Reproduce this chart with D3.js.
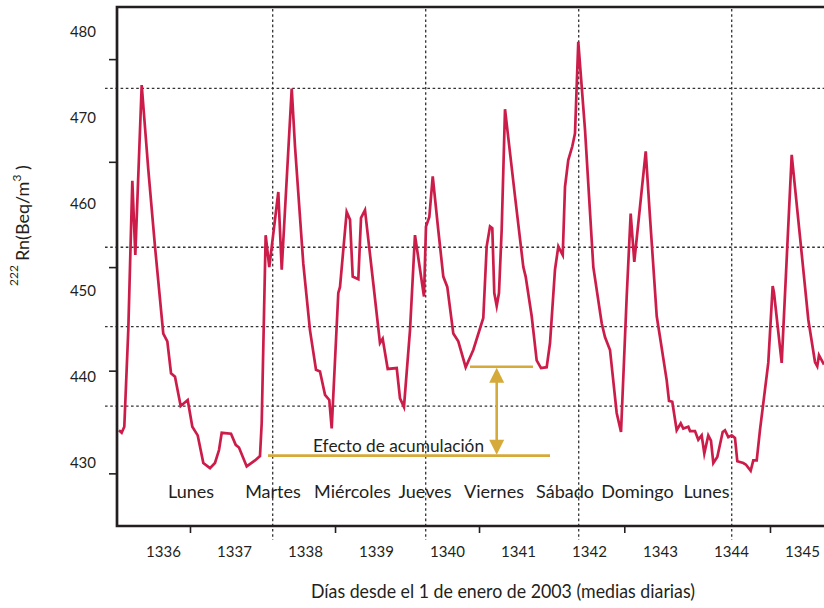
<!DOCTYPE html>
<html><head><meta charset="utf-8">
<script src="https://cdn.jsdelivr.net/npm/d3@7"></script>
<style>
body{margin:0;background:#fff}
svg{display:block}
text{font-family:Lato,"Open Sans",sans-serif;fill:#231f20}
</style>
</head><body>
<svg id="chart" width="824" height="608"></svg>
<script>
// ---- data (days since 1 Jan 2003, daily mean 222Rn in Bq/m3) ----
const days = [1335.380,1335.418,1335.455,1335.511,1335.568,1335.610,1335.700,1335.793,1335.887,1336.004,
1336.061,1336.113,1336.169,1336.249,1336.348,1336.413,1336.489,1336.568,1336.662,1336.732,
1336.789,1336.827,1336.958,1337.024,1337.070,1337.179,1337.296,1337.366,1337.390,1337.446,
1337.497,1337.624,1337.672,1337.813,1337.859,1337.976,1338.070,1338.155,1338.211,1338.282,
1338.342,1338.376,1338.469,1338.493,1338.587,1338.634,1338.672,1338.751,1338.789,1338.845,
1338.962,1339.056,1339.094,1339.165,1339.292,1339.338,1339.394,1339.479,1339.549,1339.676,
1339.704,1339.751,1339.799,1339.877,1339.948,1340.004,1340.089,1340.159,1340.263,1340.370,
1340.511,1340.559,1340.606,1340.638,1340.666,1340.700,1340.732,1340.770,1340.817,1340.958,
1341.075,1341.108,1341.193,1341.263,1341.324,1341.404,1341.451,1341.521,1341.568,1341.592,
1341.630,1341.662,1341.708,1341.765,1341.803,1341.849,1341.944,1342.061,1342.179,1342.225,
1342.296,1342.390,1342.451,1342.531,1342.587,1342.638,1342.799,1342.859,1342.954,1343.000,
1343.094,1343.127,1343.173,1343.235,1343.292,1343.328,1343.399,1343.423,1343.493,1343.539,
1343.587,1343.624,1343.680,1343.718,1343.751,1343.807,1343.883,1343.915,1343.962,1344.010,
1344.056,1344.089,1344.173,1344.211,1344.277,1344.314,1344.362,1344.408,1344.525,1344.587,
1344.606,1344.714,1344.855,1344.972,1345.089,1345.183,1345.215,1345.239,1345.310];
const radon = [433.8,433.5,434.2,445.4,462.7,454.1,473.8,464.0,455.1,445.0,
444.1,440.4,440.0,436.6,437.3,434.2,433.2,430.0,429.4,430.0,
431.5,433.5,433.4,432.1,431.8,429.6,430.3,430.8,434.6,456.4,
452.7,461.4,452.4,473.4,466.7,453.1,445.4,440.8,440.6,437.9,
437.3,434.0,449.7,450.4,459.1,458.2,451.6,451.3,458.4,459.3,
450.8,443.9,444.4,440.9,441.0,437.5,436.5,445.4,456.4,449.3,
457.4,458.5,463.2,457.0,451.6,450.4,445.0,444.1,441.1,443.1,
446.8,455.1,457.4,457.2,449.7,448.2,449.7,457.0,471.0,460.9,
452.7,451.6,447.0,441.9,441.0,441.1,443.9,452.4,455.1,454.7,
454.1,462.0,465.1,466.7,468.2,478.8,468.6,452.7,446.2,444.6,
443.1,435.8,433.6,449.3,458.9,453.3,466.1,458.5,447.0,444.6,
439.6,437.2,437.1,433.8,434.6,434.0,434.2,433.7,433.7,432.7,
433.2,431.1,433.2,432.6,430.0,430.7,433.6,433.8,433.0,433.2,
432.9,430.2,430.0,429.8,429.1,430.3,430.3,433.8,441.6,450.5,
449.7,441.6,465.7,456.2,446.6,441.7,441.2,442.5,441.4];

const xTickLabels = [1336,1337,1338,1339,1340,1341,1342,1343,1344,1345];
const yTickLabels = [430,440,450,460,470,480];
const xTickMarks = [1336.380,1338.423,1340.451,1342.497,1344.549];
const yTickMarks = [428.8,440.7,452.7,464.9,476.8];
const xGridDays = [1337.545,1339.700,1341.855,1344.010];
const yGridValues = [436.6,445.8,455.0,473.4];
const weekdays = ["Lunes","Martes","Miércoles","Jueves","Viernes","Sábado","Domingo","Lunes"];
const weekdayDays = [1336.394,1337.549,1338.669,1339.690,1340.662,1341.662,1342.683,1343.655];
const baseLevel = 430.85, baseFrom = 1337.479, baseTo = 1341.451;
const accumLevel = 441.16, accumFrom = 1340.324, accumTo = 1341.211;
const arrowDay = 1340.700;
const accumLabel = "Efecto de acumulación", accumLabelDay = 1338.113, accumLabelValue = 431.27;
const xTitle = "Días desde el 1 de enero de 2003 (medias diarias)";

// ---- layout ----
const W = 824, H = 608;
const plot = {left:117, top:7, right:824, bottom:526};
const svg = d3.select("#chart");

const x = d3.scaleLinear().domain([1336,1345]).range([163,802]);
const y = d3.scaleLinear().domain([430,480]).range([463,31.5]);

const ink = "#231f20";
const red = "#cc1d4a";
const gold = "#d6aa3a";

// grid
const grid = svg.append("g").attr("stroke", "#333").attr("stroke-width", 1.3)
  .attr("stroke-dasharray", "2.6,2.6");
grid.selectAll("line.h").data(yGridValues).join("line").attr("class","h")
  .attr("x1", 105).attr("x2", W).attr("y1", d => y(d)).attr("y2", d => y(d));
grid.selectAll("line.v").data(xGridDays).join("line").attr("class","v")
  .attr("x1", d => x(d)).attr("x2", d => x(d)).attr("y1", 9).attr("y2", 540);

// clip
svg.append("clipPath").attr("id","clip").append("rect")
  .attr("x", plot.left).attr("y", plot.top).attr("width", plot.right-plot.left).attr("height", plot.bottom-plot.top);

// data line
const pts = days.map((d,i) => [d, radon[i]]);
svg.append("path").datum(pts)
  .attr("clip-path","url(#clip)")
  .attr("fill","none").attr("stroke", red).attr("stroke-width", 2.7)
  .attr("stroke-linejoin","miter").attr("stroke-miterlimit", 6)
  .attr("d", d3.line().x(d => x(d[0])).y(d => y(d[1])));

// accumulation annotation
const ann = svg.append("g").attr("stroke", gold).attr("stroke-width", 2.6);
ann.append("line").attr("x1", x(baseFrom)).attr("x2", x(baseTo)).attr("y1", y(baseLevel)).attr("y2", y(baseLevel));
ann.append("line").attr("x1", x(accumFrom)).attr("x2", x(accumTo)).attr("y1", y(accumLevel)).attr("y2", y(accumLevel));
const ax = x(arrowDay), yTop = y(accumLevel), yBot = y(baseLevel);
ann.append("line").attr("x1", ax).attr("x2", ax).attr("y1", yTop + 10).attr("y2", yBot - 10);
ann.append("path").attr("stroke","none").attr("fill", gold)
  .attr("d", `M${ax},${yTop+1}L${ax-7.5},${yTop+16}L${ax+7.5},${yTop+16}Z`);
ann.append("path").attr("stroke","none").attr("fill", gold)
  .attr("d", `M${ax},${yBot-1}L${ax-7.5},${yBot-16}L${ax+7.5},${yBot-16}Z`);

svg.append("text").attr("x", x(accumLabelDay)).attr("y", y(accumLabelValue))
  .attr("font-size", 18).attr("textLength", 171).attr("lengthAdjust","spacingAndGlyphs")
  .text(accumLabel);

// weekday labels
svg.append("g").selectAll("text").data(weekdays).join("text")
  .attr("x", (d,i) => x(weekdayDays[i])).attr("y", 498)
  .attr("text-anchor","middle").attr("font-size", 18)
  .text(d => d);

// frame
const frame = svg.append("g").attr("stroke", ink).attr("stroke-width", 2.7).attr("fill","none");
frame.append("path").attr("d", `M${W},${plot.top}H${plot.left}V${plot.bottom}H${W}`);

// y axis: tick marks and labels
const yMarks = svg.append("g").attr("transform", `translate(${plot.left},0)`)
  .call(d3.axisLeft(y).tickValues(yTickMarks).tickSize(8).tickFormat(""));
yMarks.select(".domain").remove();
yMarks.selectAll("line").attr("stroke", ink).attr("stroke-width", 1.6);

const yLabs = svg.append("g").attr("transform", `translate(${plot.left},0)`)
  .call(d3.axisLeft(y).tickValues(yTickLabels).tickSize(0).tickPadding(21).tickFormat(d3.format("d")));
yLabs.select(".domain").remove();
yLabs.selectAll("text").attr("font-size", 15).attr("font-family", "Lato, sans-serif").attr("fill", ink);

// x axis: tick marks and labels
const xMarks = svg.append("g").attr("transform", `translate(0,${plot.bottom})`)
  .call(d3.axisBottom(x).tickValues(xTickMarks).tickSize(7).tickFormat(""));
xMarks.select(".domain").remove();
xMarks.selectAll("line").attr("stroke", ink).attr("stroke-width", 1.6);

const xLabs = svg.append("g").attr("transform", `translate(0,${plot.bottom})`)
  .call(d3.axisBottom(x).tickValues(xTickLabels).tickSize(0).tickPadding(20).tickFormat(d3.format("d")));
xLabs.select(".domain").remove();
xLabs.selectAll("text").attr("font-size", 15).attr("font-family", "Lato, sans-serif").attr("fill", ink);

// axis titles
svg.append("text").attr("x", 503).attr("y", 598).attr("text-anchor","middle")
  .attr("font-size", 19).attr("textLength", 384).attr("lengthAdjust","spacingAndGlyphs")
  .text(xTitle);

const yt = svg.append("text").attr("transform", "translate(29,286) rotate(-90)");
yt.append("tspan").attr("font-size", 12).attr("dy", -11).text("222");
yt.append("tspan").attr("font-size", 18).attr("dy", 11).attr("dx", 4).text("Rn(Beq/m");
yt.append("tspan").attr("font-size", 12).attr("dy", -8).text("3");
yt.append("tspan").attr("font-size", 18).attr("dy", 8).text(" )");
</script>
</body></html>
